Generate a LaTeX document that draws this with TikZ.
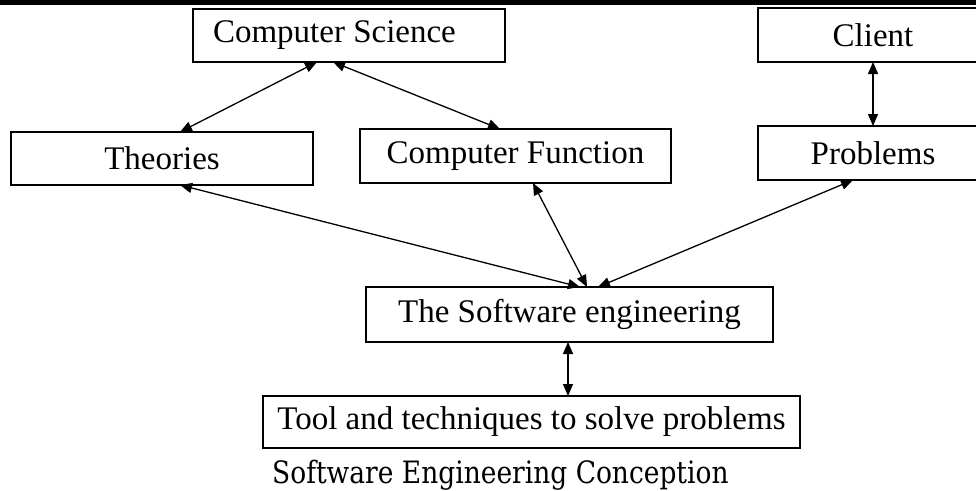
\documentclass[tikz,border=0pt]{standalone}
\usepackage{fontspec}
\setmainfont{Liberation Serif}
\newfontfamily\capfont[FakeStretch=0.86]{DejaVu Serif}
\usetikzlibrary{arrows.meta}
\tikzset{
  box/.style={draw=black, line width=1.3pt, inner sep=0pt, outer sep=0pt,
    font=\fontsize{33}{38}\selectfont, anchor=center},
  link/.style={line width=1.3pt, {Triangle[length=12pt,width=10pt]}-{Triangle[length=12pt,width=10pt]}}
}
\begin{document}
\begin{tikzpicture}[x=1pt,y=-1pt]
\useasboundingbox (0,0) rectangle (976,490);
\fill[black] (0,0) rectangle (976,5);
\node[box, minimum height=53pt, inner xsep=20pt] (cs) at (349,35.5) {\makebox[272pt][l]{Computer Science}};
\node[box, minimum width=230pt, minimum height=54pt] (cl) at (873,35) {Client};
\node[box, minimum width=302pt, minimum height=53pt] (th) at (162,158.5) {Theories};
\node[box, minimum width=311pt, minimum height=54pt] (cf) at (515.5,156) {Computer Function};
\node[box, minimum width=230pt, minimum height=54pt] (pr) at (873,153) {Problems};
\node[box, minimum width=407pt, minimum height=55pt] (se) at (569.5,314.5) {The Software engineering};
\node[box, minimum width=537pt, minimum height=52pt] (tl) at (531.5,422) {Tool and techniques to solve problems};
\node[anchor=base west, inner sep=0pt, font=\capfont\fontsize{30.8}{34}\selectfont] (cap) at (272,483) {Software Engineering Conception};
\draw[link] ([xshift=-32pt]cs.south) -- ([xshift=18pt]th.north);
\draw[link] ([xshift=-16pt]cs.south) -- ([xshift=-15.5pt]cf.north);
\draw[link] (cl.south) -- (pr.north);
\draw[link] ([xshift=18pt]th.south) -- ([xshift=10.5pt]se.north);
\draw[link] ([xshift=17.5pt]cf.south) -- ([xshift=17.5pt]se.north);
\draw[link] ([xshift=-20pt]pr.south) -- ([xshift=28.5pt]se.north);
\draw[link] ([xshift=-1.5pt]se.south) -- ([xshift=36.5pt]tl.north);
\end{tikzpicture}
\end{document}
